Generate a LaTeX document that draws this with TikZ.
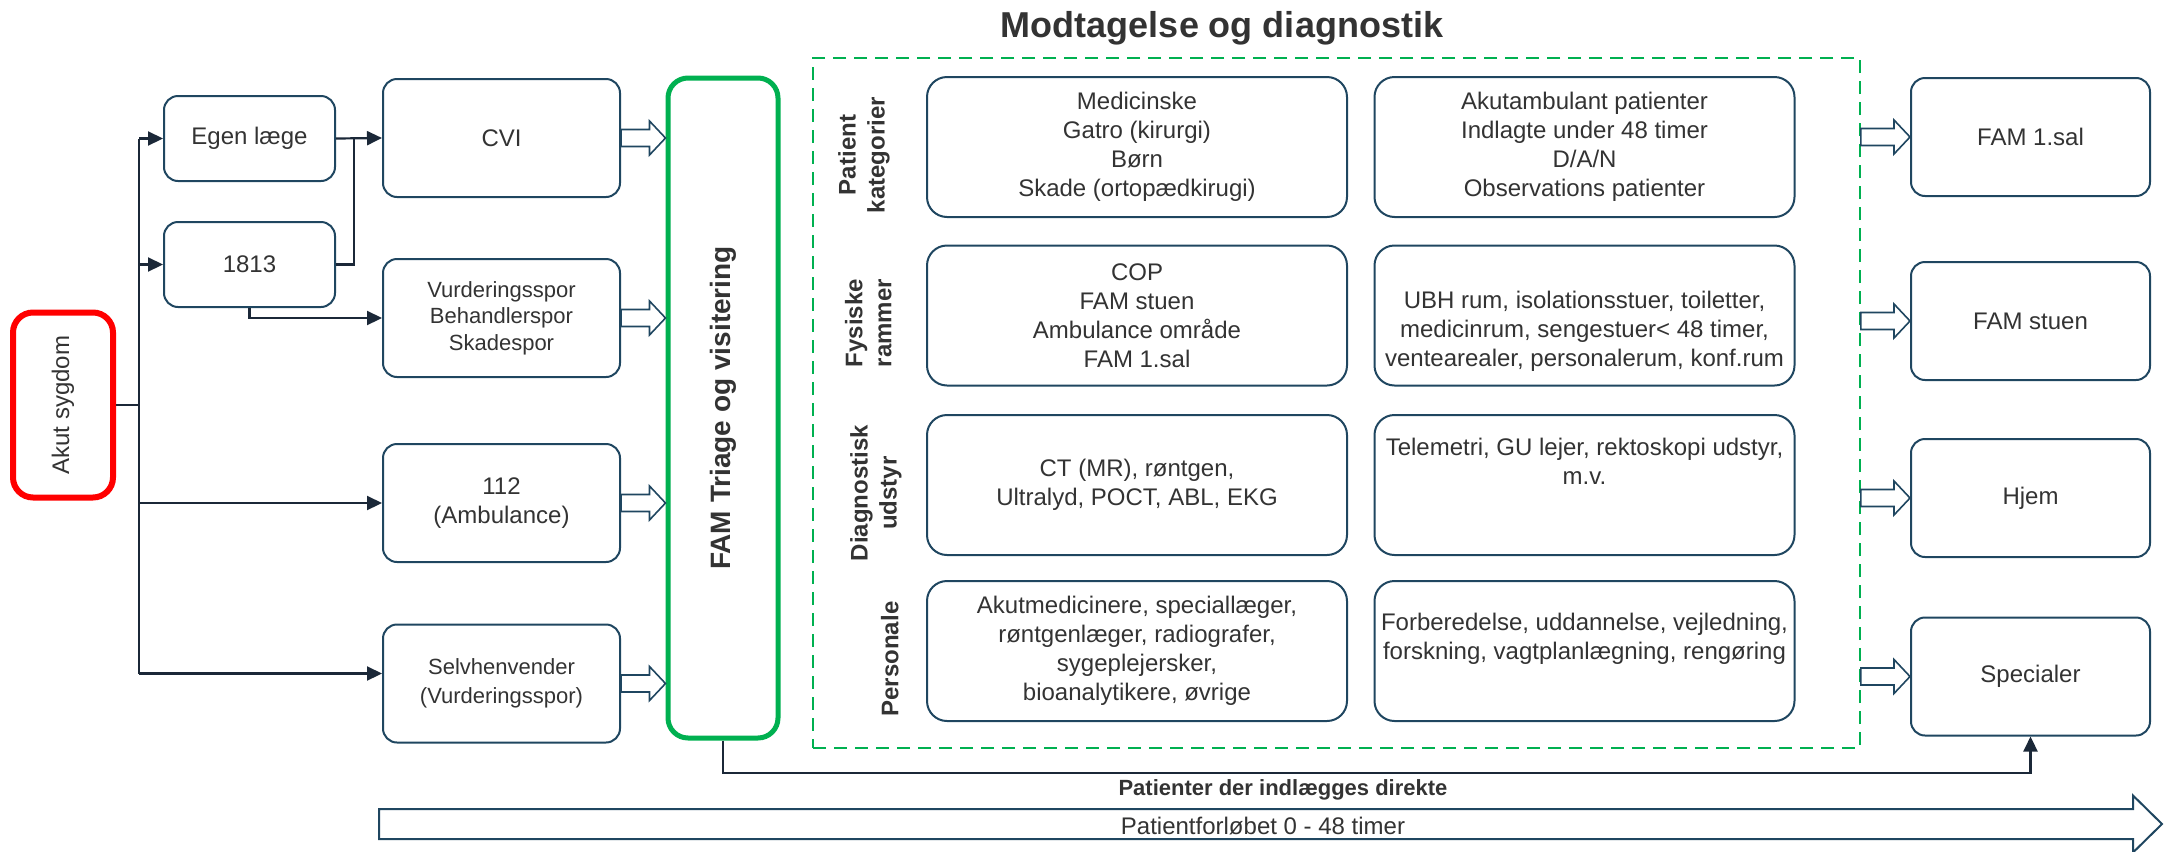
\documentclass[tikz,border=0pt]{standalone}
\usepackage{fontspec}
\setmainfont{Liberation Sans}
\usepackage{graphicx}
\usetikzlibrary{calc,arrows.meta}
\definecolor{boxc}{HTML}{1F4660}
\definecolor{linec}{HTML}{1B2838}
\definecolor{txtc}{HTML}{333333}
\definecolor{grn}{HTML}{00B050}
\definecolor{rd}{HTML}{FF0000}
\tikzset{
 blockarrow/.style n args={3}{to path={let \p1=(\tikztostart), \p2=(\tikztotarget) in (\x1,\y1+#1) -- (\x2-#3,\y1+#1) -- (\x2-#3,\y1+#2) -- (\x2,\y1) -- (\x2-#3,\y1-#2) -- (\x2-#3,\y1-#1) -- (\x1,\y1-#1) -- cycle}}
}
\begin{document}
\begin{tikzpicture}[x=0.5pt,y=-0.5pt,
 box/.style={draw=boxc, line width=1pt, rounded corners=7pt, fill=white, align=center, text=txtc, font=\fontsize{12}{14.5}\selectfont, inner sep=2pt},
 sbox/.style={box, minimum width=85.5pt, minimum height=42.5pt},
 lbox/.style={box, minimum width=118.5pt, minimum height=59pt},
 mbox/.style={box, rounded corners=10pt, minimum width=210pt, minimum height=70pt},
 rbox/.style={box, minimum width=119.5pt, minimum height=59pt},
 mtxt/.style={align=center, text=txtc, font=\fontsize{12}{14.5}\selectfont, inner sep=0pt},
 rowlbl/.style={rotate=90, anchor=south, align=center, inner sep=0pt, text=txtc, font=\bfseries\fontsize{12}{14.5}\selectfont},
 conn/.style={draw=linec, line width=1.1pt},
 connarr/.style={conn, -{Triangle[length=7.5pt,width=7pt]}},
 barrow/.style={draw=boxc, line width=0.8pt, fill=white, blockarrow={4.25pt}{8.5pt}{8pt}}
]
 \useasboundingbox (0,0) rectangle (2165,852);

 \node[anchor=base, text=txtc, font=\bfseries\fontsize{18}{21}\selectfont] (titel) at (1222,37) {Modtagelse og diagnostik};

 \node[box, draw=rd, line width=3pt, rounded corners=10pt, minimum width=50pt, minimum height=92.5pt] (akut) at (63,405) {\rotatebox{90}{Akut sygdom}};

 \node[sbox] (egen) at (249.5,138.5) {Egen læge};
 \node[sbox] (n1813) at (249.5,264.5) {1813};

 \node[lbox] (cvi) at (501.5,138) {CVI};
 \node[lbox, font=\fontsize{11}{13.25}\selectfont] (vurd) at (501.5,318) {Vurderingsspor\\Behandlerspor\\Skadespor};
 \node[lbox] (amb) at (501.5,503) {112\\(Ambulance)};
 \node[lbox, font=\fontsize{11}{14.5}\selectfont] (selv) at (501.5,683.5) {Selvhenvender\\(Vurderingsspor)};

 \node[box, draw=grn, line width=2.5pt, rounded corners=10pt, minimum width=55pt, minimum height=330pt, font=\bfseries\fontsize{14}{16}\selectfont] (triage) at (723,408) {\rotatebox{90}{FAM Triage og visitering}};

 \node[draw=grn, line width=0.8pt, dash pattern=on 6.5pt off 4pt, minimum width=523.5pt, minimum height=345pt, inner sep=0pt] (modt) at (1336.5,403) {};

 \node[rowlbl] (lbl1) at (890,155) {Patient\\kategorier};
 \node[rowlbl] (lbl2) at (892,323) {Fysiske\\rammer};
 \node[rowlbl] (lbl3) at (902,493) {Diagnostisk\\udstyr};
 \node[rowlbl] (lbl4) at (899,659) {Personale};

 \node[mbox] (r1c1) at (1137,147) {Medicinske\\Gatro (kirurgi)\\Børn\\Skade (ortopædkirugi)};
 \node[mbox] (r1c2) at (1584.5,147) {Akutambulant patienter\\Indlagte under 48 timer\\D/A/N\\Observations patienter};
 \node[mbox] (r2c1) at (1137,315.5) {COP\\FAM stuen\\Ambulance område\\FAM 1.sal};
 \node[mbox] (r2c2) at (1584.5,315.5) {};
 \node[mtxt] (t22) at (1584.5,331) {UBH rum, isolationsstuer, toiletter,\\medicinrum, sengestuer< 48 timer,\\ventearealer, personalerum, konf.rum};
 \node[mbox] (r3c1) at (1137,485) {CT (MR), røntgen,\\Ultralyd, POCT, ABL, EKG};
 \node[mbox] (r3c2) at (1584.5,485) {};
 \node[mtxt] (t32) at (1584.5,461) {Telemetri, GU lejer, rektoskopi udstyr,\\m.v.};
 \node[mbox] (r4c1) at (1137,651) {Akutmedicinere, speciallæger,\\røntgenlæger, radiografer,\\sygeplejersker,\\bioanalytikere, øvrige};
 \node[mbox] (r4c2) at (1584.5,651) {};
 \node[mtxt] (t42) at (1584.5,638.5) {Forberedelse, uddannelse, vejledning,\\forskning, vagtplanlægning, rengøring};

 \node[rbox] (fam1) at (2030.5,137) {FAM 1.sal};
 \node[rbox] (famst) at (2030.5,321) {FAM stuen};
 \node[rbox] (hjem) at (2030.5,498) {Hjem};
 \node[rbox] (spec) at (2030.5,676.5) {Specialer};

 \coordinate (bus) at (139,405);
 \coordinate (direkte) at (723,773);
 \coordinate (pfstart) at (379,824);
 \coordinate (pfslut) at (2162,824);

 \draw[conn] (akut.east) -- (akut.east -| bus);
 \draw[conn] (egen.west -| bus) -- ([yshift=5pt]selv.west -| bus);
 \draw[connarr] (egen.west -| bus) -- (egen.west);
 \draw[connarr] (n1813.west -| bus) -- (n1813.west);
 \draw[connarr] (amb.west -| bus) -- (amb.west);
 \draw[connarr] ([yshift=5pt]selv.west -| bus) -- ([yshift=5pt]selv.west);
 \draw[connarr] (egen.east) -- (cvi.west);
 \draw[conn] (n1813.east) -| ([xshift=9pt]egen.east);
 \draw[connarr] (n1813.south) |- (vurd.west);

 \draw[barrow] (cvi.east) to (cvi.east -| triage.west);
 \draw[barrow] (vurd.east) to (vurd.east -| triage.west);
 \draw[barrow] (amb.east) to (amb.east -| triage.west);
 \draw[barrow] (selv.east) to (selv.east -| triage.west);

 \draw[barrow] (modt.east |- fam1.west) to (fam1.west);
 \draw[barrow] (modt.east |- famst.west) to (famst.west);
 \draw[barrow] (modt.east |- hjem.west) to (hjem.west);
 \draw[barrow] (modt.east |- spec.west) to (spec.west);

 \draw[connarr] (triage.south) -- (direkte) -| (spec.south);
 \node[anchor=base, text=txtc, font=\bfseries\fontsize{11}{13}\selectfont] (lbldirekte) at (1283,795) {Patienter der indlægges direkte};

 \draw[draw=boxc, line width=1pt, fill=white, blockarrow={7.5pt}{14.25pt}{14.5pt}] (pfstart) to (pfslut);
 \node[anchor=base, text=txtc, font=\fontsize{12}{14.5}\selectfont] (lblforloeb) at (1263,834) {Patientforløbet 0 - 48 timer};
\end{tikzpicture}
\end{document}
